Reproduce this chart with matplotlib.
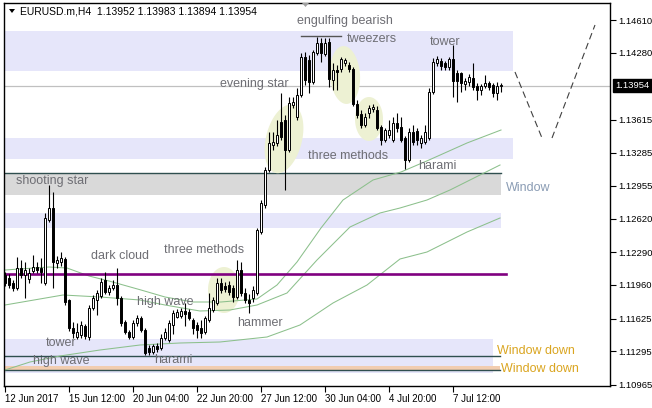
import matplotlib.pyplot as plt
from matplotlib.patches import Rectangle, Polygon
import numpy as np

plt.rcParams['font.family'] = ['Liberation Sans', 'DejaVu Sans']

W, H = 652, 408

# ---- H4 candles, EURUSD.m (one entry per bar, oldest first) ----
opens = [1.1206, 1.1203, 1.1198, 1.1193, 1.1213, 1.1206, 1.1202, 1.1210, 1.1214, 1.1213,
         1.1198, 1.1261, 1.1273, 1.1218, 1.1219, 1.1222, 1.1181, 1.1153, 1.1144, 1.1146,
         1.1155, 1.1144, 1.1173, 1.1181, 1.1185, 1.1201, 1.1189, 1.1193, 1.1196, 1.1183,
         1.1159, 1.1149, 1.1144, 1.1158, 1.1163, 1.1151, 1.1133, 1.1129, 1.1135, 1.1133,
         1.1143, 1.1141, 1.1156, 1.1164, 1.1165, 1.1170, 1.1169, 1.1161, 1.1156, 1.1153,
         1.1149, 1.1161, 1.1171, 1.1178, 1.1198, 1.1195, 1.1196, 1.1193, 1.1184, 1.1211,
         1.1188, 1.1181, 1.1183, 1.1188, 1.1249, 1.1276, 1.1311, 1.1336, 1.1338, 1.1359,
         1.1361, 1.1331, 1.1376, 1.1364, 1.1386, 1.1424, 1.1421, 1.1399, 1.1428, 1.1438,
         1.1427, 1.1439, 1.1401, 1.1411, 1.1412, 1.1418, 1.1416, 1.1412, 1.1377, 1.1367,
         1.1356, 1.1368, 1.1372, 1.1371, 1.1354, 1.1341, 1.1346, 1.1341, 1.1358, 1.1354,
         1.1343, 1.1321, 1.1349, 1.1350, 1.1338, 1.1339, 1.1343, 1.1389, 1.1418, 1.1420,
         1.1418, 1.1414, 1.1422, 1.1408, 1.1408, 1.1397, 1.1399, 1.1403, 1.1395, 1.1391,
         1.1395, 1.1398, 1.1396, 1.1388, 1.13952]
highs = [1.1209, 1.1207, 1.1201, 1.1224, 1.1221, 1.1219, 1.1213, 1.1226, 1.1219, 1.1223,
         1.1268, 1.1296, 1.1289, 1.1225, 1.1229, 1.1224, 1.1182, 1.1159, 1.1158, 1.1160,
         1.1157, 1.1176, 1.1186, 1.1191, 1.1203, 1.1209, 1.1196, 1.1201, 1.1213, 1.1185,
         1.1161, 1.1151, 1.1161, 1.1166, 1.1165, 1.1153, 1.1136, 1.1137, 1.1138, 1.1147,
         1.1153, 1.1161, 1.1171, 1.1172, 1.1173, 1.1178, 1.1172, 1.1163, 1.1159, 1.1161,
         1.1165, 1.1188, 1.1184, 1.1203, 1.1203, 1.1199, 1.1200, 1.1196, 1.1221, 1.1219,
         1.1193, 1.1187, 1.1195, 1.1253, 1.1281, 1.1314, 1.1349, 1.1349, 1.1361, 1.1388,
         1.1366, 1.1384, 1.1384, 1.1393, 1.1428, 1.1429, 1.1426, 1.1431, 1.1444, 1.1443,
         1.1443, 1.1443, 1.1418, 1.1416, 1.1424, 1.1423, 1.1419, 1.1414, 1.1381, 1.1371,
         1.1368, 1.1376, 1.1377, 1.1375, 1.1356, 1.1353, 1.1361, 1.1364, 1.1368, 1.1364,
         1.1345, 1.1353, 1.1356, 1.1353, 1.1346, 1.1356, 1.1393, 1.1423, 1.1425, 1.1423,
         1.1420, 1.1424, 1.1436, 1.1411, 1.1409, 1.1403, 1.1407, 1.1418, 1.1398, 1.1397,
         1.1406, 1.1400, 1.1398, 1.1399, 1.13983]
lows = [1.1195, 1.1193, 1.1190, 1.1191, 1.1203, 1.1183, 1.1198, 1.1208, 1.1208, 1.1198,
        1.1196, 1.1259, 1.1193, 1.1213, 1.1215, 1.1176, 1.1150, 1.1143, 1.1142, 1.1143,
        1.1142, 1.1141, 1.1171, 1.1166, 1.1183, 1.1187, 1.1186, 1.1191, 1.1176, 1.1155,
        1.1147, 1.1142, 1.1142, 1.1155, 1.1149, 1.1126, 1.1126, 1.1127, 1.1129, 1.1131,
        1.1141, 1.1139, 1.1147, 1.1163, 1.1163, 1.1155, 1.1161, 1.1147, 1.1143, 1.1143,
        1.1147, 1.1159, 1.1169, 1.1176, 1.1188, 1.1189, 1.1186, 1.1179, 1.1182, 1.1185,
        1.1178, 1.1168, 1.1179, 1.1186, 1.1247, 1.1273, 1.1309, 1.1331, 1.1335, 1.1341,
        1.1291, 1.1329, 1.1373, 1.1361, 1.1384, 1.1396, 1.1388, 1.1397, 1.1426, 1.1419,
        1.1425, 1.1394, 1.1391, 1.1391, 1.1409, 1.1415, 1.1409, 1.1375, 1.1363, 1.1353,
        1.1354, 1.1363, 1.1369, 1.1351, 1.1336, 1.1339, 1.1343, 1.1339, 1.1349, 1.1339,
        1.1312, 1.1319, 1.1336, 1.1336, 1.1333, 1.1337, 1.1341, 1.1387, 1.1415, 1.1411,
        1.1411, 1.1411, 1.1384, 1.1379, 1.1389, 1.1391, 1.1395, 1.1391, 1.1381, 1.1386,
        1.1393, 1.1391, 1.1384, 1.1381, 1.13894]
closes = [1.1198, 1.1196, 1.1193, 1.1213, 1.1206, 1.1211, 1.1208, 1.1214, 1.1211, 1.1209,
          1.1263, 1.1273, 1.1219, 1.1221, 1.1223, 1.1179, 1.1153, 1.1148, 1.1149, 1.1156,
          1.1145, 1.1173, 1.1183, 1.1188, 1.1199, 1.1189, 1.1193, 1.1196, 1.1183, 1.1158,
          1.1149, 1.1144, 1.1158, 1.1163, 1.1151, 1.1128, 1.1129, 1.1135, 1.1132, 1.1143,
          1.1149, 1.1158, 1.1168, 1.1169, 1.1170, 1.1167, 1.1163, 1.1153, 1.1151, 1.1148,
          1.1163, 1.1173, 1.1181, 1.1198, 1.1191, 1.1192, 1.1189, 1.1184, 1.1211, 1.1188,
          1.1181, 1.1178, 1.1191, 1.1251, 1.1278, 1.1311, 1.1338, 1.1339, 1.1346, 1.1344,
          1.1331, 1.1378, 1.1379, 1.1386, 1.1424, 1.1401, 1.1399, 1.1429, 1.1438, 1.1428,
          1.1438, 1.1402, 1.1411, 1.1409, 1.1422, 1.1421, 1.1412, 1.1377, 1.1366, 1.1356,
          1.1364, 1.1373, 1.1374, 1.1353, 1.1341, 1.1351, 1.1351, 1.1358, 1.1353, 1.1341,
          1.1321, 1.1349, 1.1339, 1.1341, 1.1343, 1.1349, 1.1389, 1.1419, 1.1422, 1.1415,
          1.1414, 1.1422, 1.1400, 1.1400, 1.1398, 1.1400, 1.1404, 1.1394, 1.1391, 1.1395,
          1.1398, 1.1394, 1.1388, 1.1395, 1.13954]

# moving averages (bar index, price)
ma_fast_x = [0, 11, 15.5, 21, 26, 34, 40, 47, 54, 60, 63, 68, 73, 79, 84.5, 92, 99, 106, 115.5, 124]
ma_fast = [1.1211, 1.1214, 1.1213, 1.1205, 1.1200, 1.1191, 1.1184, 1.1179, 1.1179, 1.1181,
           1.1182, 1.1196, 1.1219, 1.1253, 1.1281, 1.1301, 1.1309, 1.1321, 1.1338, 1.1351]
ma_mid_x = [0, 14.5, 23.75, 33.75, 40, 48.75, 56.25, 63, 70.5, 78, 86.25, 93.75, 98.75, 105.5, 111.25, 123.75]
ma_mid = [1.1176, 1.1186, 1.1184, 1.1181, 1.1176, 1.1170, 1.1171, 1.1176, 1.1188, 1.1221,
          1.1254, 1.1268, 1.1273, 1.1281, 1.1291, 1.1316]
ma_slow_x = [0, 6.25, 13.75, 23.75, 33.75, 43.75, 53.75, 65.5, 73.75, 82, 90.5, 98.75, 105.5, 115.5, 123.75]
ma_slow = [1.1111, 1.1119, 1.1125, 1.1131, 1.1136, 1.1138, 1.1139, 1.1144, 1.1156, 1.1178,
           1.1196, 1.1222, 1.1229, 1.1249, 1.1263]

tick_bars = [0, 16, 32, 48, 64, 80, 96, 112]
tick_labels = ['12 Jun 2017', '15 Jun 12:00', '20 Jun 04:00', '22 Jun 20:00',
               '27 Jun 12:00', '30 Jun 04:00', '4 Jul 20:00', '7 Jul 12:00']
price_ticks = [1.14610, 1.14280, 1.13615, 1.13285, 1.12955, 1.12620,
               1.12290, 1.11960, 1.11625, 1.11295, 1.10965]
last_price = 1.13954

TXT = '#6e6e74'
LAV = '#e6e6fa'
HIL = '#edf1d3'


def to_data(xp, yp):
    # screen pixel -> (bar index, price)
    return (xp - 5) / 4.0, 1.1481 - yp / 10000.0


fig = plt.figure(figsize=(W / 100, H / 100), dpi=100)
ax = fig.add_axes([4 / W, 22 / H, 606 / W, 383 / H])
ax.set_xlim(-0.25, 151.25)
ax.set_ylim(1.1095, 1.1478)

# --- zones ---
def zone(x1, p_top, p_bot, color, z=0):
    ax.add_patch(Rectangle((-0.25, p_bot), x1 + 0.25, p_top - p_bot, fc=color, ec='none', zorder=z))

zone(127, 1.1450, 1.1410, LAV)
zone(127, 1.1343, 1.1322, LAV)
zone(124, 1.1308, 1.1286, '#d9d9d9')
zone(124, 1.1268, 1.1253, LAV)
zone(122, 1.1142, 1.1108, LAV)
zone(123.75, 1.1115, 1.1111, '#f2cdb0', z=0.5)

ax.plot([-0.25, 124], [1.1308, 1.1308], color='#2f4f4f', lw=1.0, zorder=1)
ax.plot([-0.25, 123.75], [1.1125, 1.1125], color='#2f4f4f', lw=1.0, zorder=1)
ax.plot([-0.25, 123.75], [1.1111, 1.1111], color='#2f4f4f', lw=1.0, zorder=1)
ax.plot([-0.25, 125.25], [1.1207, 1.1207], color='#800080', lw=1.9, zorder=2.5)
ax.plot([74, 84], [1.1445, 1.1445], color='#555555', lw=1.0, zorder=2)
ax.axhline(last_price, color='#c0c0c0', lw=0.9, zorder=1)

# --- highlight ellipses (drawn in screen pixels) ---
t = np.linspace(0, 2 * np.pi, 80)
for cx, cy, a, b, ang in [(284, 139, 18, 35, 14), (345, 75, 15, 29, -4),
                          (369, 119, 14, 22, 0), (224, 290, 16, 23, 0)]:
    r = np.radians(ang)
    ex = a * np.cos(t)
    ey = b * np.sin(t)
    xs = cx + ex * np.cos(r) - ey * np.sin(r)
    ys = cy + ex * np.sin(r) + ey * np.cos(r)
    pts = np.column_stack(to_data(xs, ys))
    ax.add_patch(Polygon(pts, closed=True, fc=HIL, ec='none', zorder=1.5))

# --- moving averages ---
for mx, my in [(ma_fast_x, ma_fast), (ma_mid_x, ma_mid), (ma_slow_x, ma_slow)]:
    ax.plot(mx, my, color='#8cc08c', lw=0.75, zorder=2)

# --- candles ---
idx = np.arange(len(closes))
o = np.array(opens)
c = np.array(closes)
ax.vlines(idx, lows, highs, color='black', lw=0.8, zorder=3)
bottoms = np.minimum(o, c)
heights = np.maximum(np.abs(c - o), 0.00005)
colors = np.where(c >= o, 'white', 'black')
ax.bar(idx, heights, bottom=bottoms, width=0.5, color=colors, edgecolor='black',
       linewidth=0.7, zorder=4)

# --- forecast zigzag ---
ax.plot([127.5, 134.25], [1.1409, 1.1343], color='#404040', lw=0.8, ls=(0, (6, 3.5)), zorder=2)
ax.plot([136.75, 147.5], [1.1343, 1.1456], color='#404040', lw=0.8, ls=(0, (6, 3.5)), zorder=2)

# --- pattern labels ---
labels = [
    ('engulfing bearish', 73.0, 1.1460, TXT),
    ('tweezers', 85.5, 1.1442, TXT),
    ('tower', 106.25, 1.1439, TXT),
    ('evening star', 53.75, 1.1397, TXT),
    ('three methods', 75.75, 1.1325, TXT),
    ('harami', 103.25, 1.1315, TXT),
    ('shooting star', 2.75, 1.1300, TXT),
    ('dark cloud', 21.5, 1.1225, TXT),
    ('three methods', 39.75, 1.1231, TXT),
    ('high wave', 33.0, 1.1179, TXT),
    ('hammer', 58.0, 1.1158, TXT),
    ('tower', 10.25, 1.1138, TXT),
    ('high wave', 7.0, 1.1120, TXT),
    ('harami', 37.25, 1.1121, TXT),
    ('Window', 125.25, 1.1293, '#8a9cb4'),
    ('Window down', 123.0, 1.1130, '#daa520'),
    ('Window down', 124.0, 1.1112, '#daa520'),
]
for s, lx, ly, col in labels:
    ax.text(lx, ly, s, color=col, fontsize=9, ha='left', va='center', zorder=6)

# --- axes styling ---
for sp in ax.spines.values():
    sp.set_color('black')
    sp.set_linewidth(1.0)
ax.yaxis.tick_right()
ax.set_yticks(price_ticks)
ax.set_yticklabels([f'{p:.5f}' for p in price_ticks])
ax.tick_params(axis='y', length=4, width=0.8, labelsize=6.8, pad=2)
ax.set_xticks(tick_bars)
ax.set_xticklabels(tick_labels)
for lab in ax.get_xticklabels():
    lab.set_ha('left')
ax.tick_params(axis='x', length=4, width=0.8, labelsize=7, pad=2)

ax.annotate(f'{last_price:.5f}', xy=(1, last_price), xycoords=('axes fraction', 'data'),
            xytext=(4, 0), textcoords='offset points', ha='left', va='center',
            color='white', fontsize=6.8,
            bbox=dict(boxstyle='square,pad=0.25', fc='black', ec='black'))

# header
fig.text(20 / W, 1 - 11 / H, 'EURUSD.m,H4  1.13952 1.13983 1.13894 1.13954',
         fontsize=7.5, color='black', ha='left', va='center')
fig.patches.append(Polygon([[9 / W, 1 - 9 / H], [15 / W, 1 - 9 / H], [12 / W, 1 - 13 / H]],
                           closed=True, fc='black', ec='none', transform=fig.transFigure))
fig.patches.append(Polygon([[302 / W, 1 - 3 / H], [309 / W, 1 - 3 / H], [305.5 / W, 1 - 7 / H]],
                           closed=True, fc='#a0a0a0', ec='none', transform=fig.transFigure))

fig.savefig('out.png', dpi=100)
